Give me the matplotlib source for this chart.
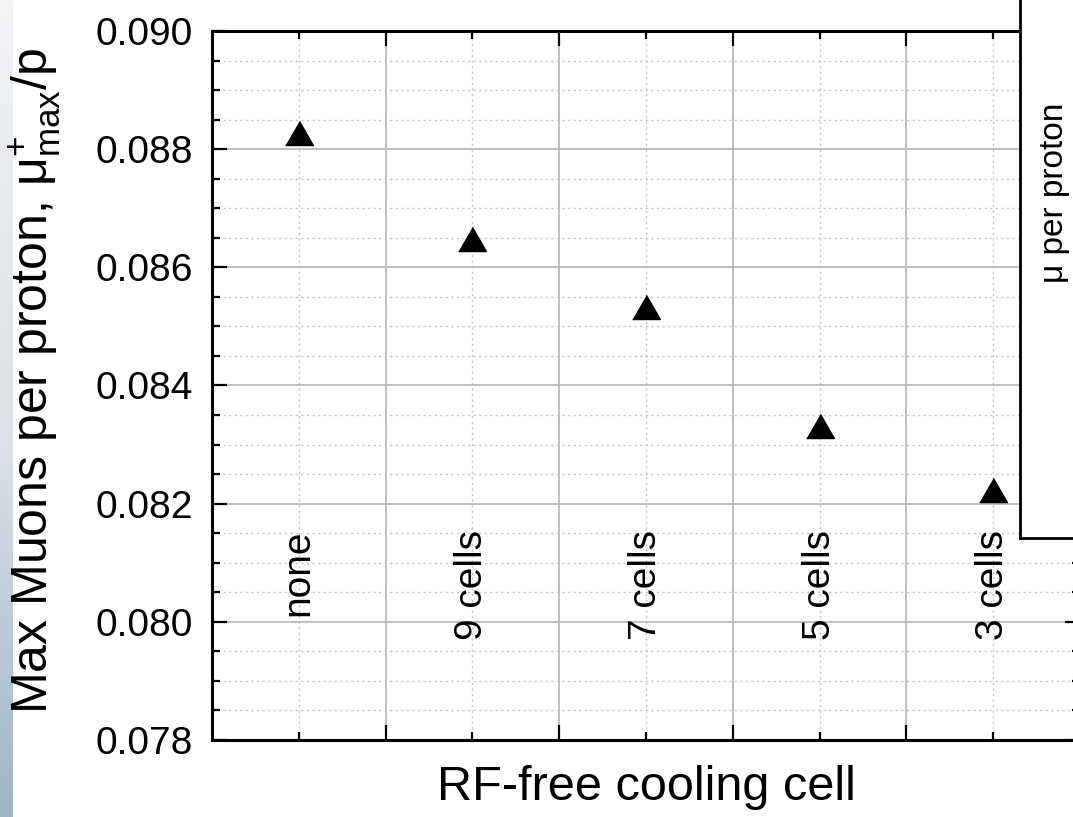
import numpy as np
import matplotlib
matplotlib.use('Agg')
import matplotlib.pyplot as plt
from matplotlib.colors import LinearSegmentedColormap
from matplotlib.ticker import MultipleLocator

plt.rcParams['font.family'] = ['Liberation Sans', 'DejaVu Sans']
plt.rcParams['mathtext.fontset'] = 'custom'
plt.rcParams['mathtext.rm'] = 'Liberation Sans'
plt.rcParams['mathtext.default'] = 'regular'

# data
cells = ['none', '9 cells', '7 cells', '5 cells', '3 cells']
muons = [0.08827, 0.08648, 0.08533, 0.08332, 0.08223]
yticks = [0.078, 0.080, 0.082, 0.084, 0.086, 0.088, 0.090]
label_y = 0.08156

W, H = 1073, 817
fig = plt.figure(figsize=(W / 100, H / 100), dpi=100)

# slide background strip on the left edge
strip = fig.add_axes([0, 0, 13 / W, 1])
shade = LinearSegmentedColormap.from_list(
    'slide', [(0, '#f2f4f6'), (0.55, '#d8e1e9'), (1, '#9fb4c7')])
strip.imshow(np.linspace(0, 1, 256).reshape(-1, 1), aspect='auto', cmap=shade)
strip.axis('off')

ax = fig.add_axes([212 / W, 77 / H, 868 / W, 709 / H])
x = np.arange(1, len(cells) + 1)
tri = [(-1, -0.866), (1, -0.866), (0, 0.866)]
ax.plot(x, muons, linestyle='none', marker=tri, markersize=20,
        color='black', zorder=3)

ax.set_xlim(0.5, len(cells) + 0.5)
ax.set_ylim(0.078, 0.090)
ax.set_yticks(yticks)
ax.set_yticklabels(['%.3f' % v for v in yticks])
ax.yaxis.set_minor_locator(MultipleLocator(0.0005))
ax.set_xticks(x + 0.5)
ax.set_xticks(x, minor=True)
ax.set_xticklabels([])

ax.tick_params(which='both', direction='in', top=True, right=True,
               width=1.6, labelsize=28, pad=14)
ax.tick_params(which='major', length=11)
ax.tick_params(which='minor', length=6)
ax.grid(which='major', color='#b4b4b4', linewidth=1.2)
ax.grid(which='minor', color='#c4c4c4', linestyle=(0, (1.5, 2.5)), linewidth=1)
for s in ax.spines.values():
    s.set_linewidth(2.2)

for xi, name in zip(x, cells):
    ax.text(xi, label_y, name, rotation=90, ha='center', va='top', fontsize=28)

fig.text(35 / W, 1 - 381 / H, 'Max Muons per proton, μ$^{+}_{max}$/p',
         rotation=90, ha='center', va='center', fontsize=36)
fig.text(646 / W, 1 - 788 / H, 'RF-free cooling cell',
         ha='center', va='center', fontsize=35)

# edge of the neighbouring chart that overlaps on the right
inset = fig.add_axes([1020 / W, 1 - 538 / H, 0.2, 0.8], zorder=5)
inset.set_facecolor('white')
inset.set_xticks([])
inset.set_yticks([])
inset.spines['top'].set_visible(False)
inset.spines['right'].set_visible(False)
inset.spines['left'].set_linewidth(2)
inset.spines['bottom'].set_linewidth(2)
inset.text(1055 / W, 1 - 193 / H, 'μ per proton', transform=fig.transFigure,
           rotation=90, ha='center', va='center', fontsize=24)

fig.savefig('out.png', dpi=100)
